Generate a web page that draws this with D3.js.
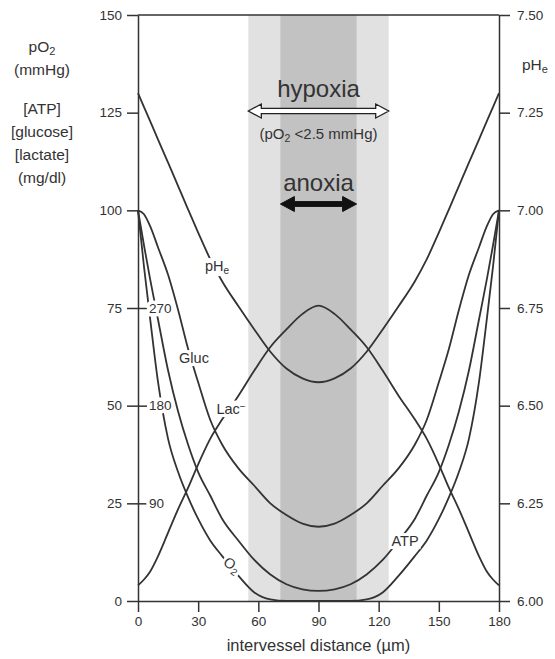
<!DOCTYPE html>
<html>
<head>
<meta charset="utf-8">
<script src="https://cdn.jsdelivr.net/npm/d3@7"></script>
<style>
  body { margin: 0; background: #fff; }
  svg text { font-family: "Liberation Sans", Arial, Helvetica, sans-serif; fill: #333; }
  .axis path, .axis line { stroke: #333; stroke-width: 1.5; }
  .axis text { font-size: 13.5px; fill: #333; }
  .curve { fill: none; stroke: #333; stroke-width: 1.8; }
  .halo { stroke: #fff; stroke-width: 7; paint-order: stroke; stroke-linejoin: round; }
</style>
</head>
<body>
<div id="container"></div>
<script>

//---------------------
// DATA
//---------------------

// intervessel distance (µm)
const dist = [0, 3, 6, 10, 15, 20, 25, 30, 36, 42, 50, 58, 66, 74, 82, 90,
              98, 106, 114, 122, 130, 138, 144, 150, 155, 160, 165, 170, 174, 177, 180];

// pO2 (mmHg)
const o2 = [100, 85.5, 72.5, 56, 41.5, 33, 26.5, 21, 15.5, 11.5, 6.5, 2.2, 0.4, 0, 0, 0,
            0, 0, 0.4, 2.2, 6.5, 11.5, 15.5, 21, 26.5, 33, 41.5, 56, 72.5, 85.5, 100];

// ATP (left scale units)
const atp = [100, 91, 82.5, 72, 59, 48.5, 40, 33, 27, 21, 15.5, 10.5, 6.8, 4.3, 3, 2.6,
             3, 4.3, 6.8, 10.5, 15.5, 21, 27, 33, 40, 48.5, 59, 72, 82.5, 91, 100];

// glucose (left scale units)
const gluc = [100, 99, 96, 90.5, 83.5, 74.5, 64.5, 56, 46.4, 40, 34, 29.5, 25, 22, 19.8, 19,
              19.8, 22, 25, 29.5, 34, 40, 46.4, 56, 64.5, 74.5, 83.5, 90.5, 96, 99, 100];

// lactate (left scale units)
const lac = [4, 5.5, 7.5, 11.5, 17.5, 23.5, 29, 35, 41.5, 46.5, 52.5, 59, 65, 69.5, 73.5, 75.6,
             73.5, 69.5, 65, 59, 52.5, 46.5, 41.5, 35, 29, 23.5, 17.5, 11.5, 7.5, 5.5, 4];

// extracellular pH (right scale)
const ph_e = [7.30, 7.264, 7.229, 7.181, 7.122, 7.062, 7.002, 6.943, 6.875, 6.818, 6.755, 6.695, 6.638, 6.595, 6.57, 6.56,
              6.57, 6.595, 6.638, 6.695, 6.755, 6.818, 6.875, 6.943, 7.002, 7.062, 7.122, 7.181, 7.229, 7.264, 7.30];

// zones (µm)
const hypoxia_zone = [55, 125];
const anoxia_zone = [71, 109];

// ticks
const ticks_x = [0, 30, 60, 90, 120, 150, 180];
const ticks_left = [0, 25, 50, 75, 100, 125, 150];
const ticks_right = [6.00, 6.25, 6.50, 6.75, 7.00, 7.25, 7.50];
const ticks_gluc = [90, 180, 270];

//---------------------
// SVG + SCALES
//---------------------

const width = 555;
const height = 659;

const svg = d3.select('#container')
              .append('svg')
              .attr('width', width)
              .attr('height', height);

const scale_x = d3.scaleLinear().domain([0, 180]).range([138, 499]);
const scale_y = d3.scaleLinear().domain([0, 150]).range([601, 15]);
const scale_ph = d3.scaleLinear().domain([6, 7.5]).range([601, 15]);
const scale_gluc = d3.scaleLinear().domain([0, 540]).range([601, 15]);

//---------------------
// ZONES
//---------------------

svg.append('rect')
   .attr('x', scale_x(hypoxia_zone[0]))
   .attr('y', scale_y(150))
   .attr('width', scale_x(hypoxia_zone[1]) - scale_x(hypoxia_zone[0]))
   .attr('height', scale_y(0) - scale_y(150))
   .attr('fill', '#e1e1e1');

svg.append('rect')
   .attr('x', scale_x(anoxia_zone[0]))
   .attr('y', scale_y(150))
   .attr('width', scale_x(anoxia_zone[1]) - scale_x(anoxia_zone[0]))
   .attr('height', scale_y(0) - scale_y(150))
   .attr('fill', '#c2c2c2');

//---------------------
// CURVES
//---------------------

function plotCurve (values, scale) {
  const line = d3.line()
                 .x((d, i) => scale_x(dist[i]))
                 .y(d => scale(d))
                 .curve(d3.curveMonotoneX);

  svg.append('path')
     .datum(values)
     .attr('class', 'curve')
     .attr('d', line);
}

plotCurve(o2, scale_y);
plotCurve(atp, scale_y);
plotCurve(gluc, scale_y);
plotCurve(lac, scale_y);
plotCurve(ph_e, scale_ph);

//---------------------
// AXES
//---------------------

// left axis, outer ticks
svg.append('g')
   .attr('class', 'axis')
   .attr('transform', `translate(${scale_x(0)}, 0)`)
   .call(d3.axisLeft(scale_y).tickValues(ticks_left).tickSize(11).tickSizeOuter(0).tickPadding(5));

// right axis (pHe)
svg.append('g')
   .attr('class', 'axis')
   .attr('transform', `translate(${scale_x(180)}, 0)`)
   .call(d3.axisRight(scale_ph).tickValues(ticks_right).tickFormat(d3.format('.2f'))
           .tickSize(11).tickSizeOuter(0).tickPadding(7));

// bottom axis
svg.append('g')
   .attr('class', 'axis')
   .attr('transform', `translate(0, ${scale_y(0)})`)
   .call(d3.axisBottom(scale_x).tickValues(ticks_x).tickSize(11).tickSizeOuter(0).tickPadding(4));

// top frame line
svg.append('line')
   .attr('x1', scale_x(0)).attr('x2', scale_x(180))
   .attr('y1', scale_y(150)).attr('y2', scale_y(150))
   .attr('stroke', '#333').attr('stroke-width', 1.5);

// inner glucose ticks (mg/dl) with white backing to cut the curves
const g_gluc = svg.append('g')
                  .attr('class', 'axis')
                  .attr('transform', `translate(${scale_x(0)}, 0)`)
                  .call(d3.axisRight(scale_gluc).tickValues(ticks_gluc).tickSize(9).tickPadding(2));
g_gluc.select('.domain').remove();
g_gluc.selectAll('text').attr('class', 'halo');

//---------------------
// TITLES
//---------------------

const left_titles = [
  { y: 52, parts: [['pO', 0], ['2', 1]] },
  { y: 75, parts: [['(mmHg)', 0]] },
  { y: 114, parts: [['[ATP]', 0]] },
  { y: 137, parts: [['[glucose]', 0]] },
  { y: 160, parts: [['[lactate]', 0]] },
  { y: 183, parts: [['(mg/dl)', 0]] }
];

left_titles.forEach(t => {
  const text = svg.append('text')
                  .attr('x', 42)
                  .attr('y', t.y)
                  .attr('text-anchor', 'middle')
                  .style('font-size', '15.5px');
  t.parts.forEach(p => {
    text.append('tspan')
        .attr('baseline-shift', p[1] ? '-30%' : null)
        .style('font-size', p[1] ? '11px' : null)
        .text(p[0]);
  });
});

const ph_title = svg.append('text')
                    .attr('x', 522)
                    .attr('y', 70)
                    .style('font-size', '15.5px');
ph_title.append('tspan').text('pH');
ph_title.append('tspan').attr('baseline-shift', '-30%').style('font-size', '11px').text('e');

svg.append('text')
   .attr('x', scale_x(90))
   .attr('y', 651)
   .attr('text-anchor', 'middle')
   .style('font-size', '16.5px')
   .text('intervessel distance (µm)');

//---------------------
// CURVE LABELS
//---------------------

// label on a white patch so the curve looks broken around it
function addLabel (x, y, main, sub, sup, rotate) {
  const g = svg.append('g')
               .attr('transform', `translate(${x}, ${y}) rotate(${rotate || 0})`);
  const text = g.append('text')
                .attr('text-anchor', 'middle')
                .attr('dy', '0.35em')
                .style('font-size', '14.5px');
  text.append('tspan').text(main);
  if (sub) text.append('tspan').attr('baseline-shift', '-30%').style('font-size', '10px').text(sub);
  if (sup) text.append('tspan').attr('baseline-shift', '45%').style('font-size', '10px').text(sup);

  const box = text.node().getBBox();
  g.insert('rect', 'text')
   .attr('x', box.x - 2)
   .attr('y', box.y)
   .attr('width', box.width + 4)
   .attr('height', box.height)
   .attr('fill', '#fff');
}

addLabel(217, 266, 'pH', 'e');
addLabel(194, 358, 'Gluc');
addLabel(231, 409, 'Lac', null, '\u2212');
addLabel(232, 565, 'O', '2', null, 35);
addLabel(405, 541, 'ATP');

//---------------------
// ZONE ANNOTATIONS
//---------------------

function arrowPath (x0, x1, y, shaft, head, head_len) {
  return `M${x0},${y}` +
         `L${x0 + head_len},${y - head}` +
         `L${x0 + head_len},${y - shaft}` +
         `L${x1 - head_len},${y - shaft}` +
         `L${x1 - head_len},${y - head}` +
         `L${x1},${y}` +
         `L${x1 - head_len},${y + head}` +
         `L${x1 - head_len},${y + shaft}` +
         `L${x0 + head_len},${y + shaft}` +
         `L${x0 + head_len},${y + head}Z`;
}

svg.append('text')
   .attr('x', scale_x(90))
   .attr('y', 97)
   .attr('text-anchor', 'middle')
   .style('font-size', '24px')
   .text('hypoxia');

svg.append('path')
   .attr('d', arrowPath(scale_x(hypoxia_zone[0]), scale_x(hypoxia_zone[1]), 111, 2.6, 7, 13))
   .attr('fill', '#fff')
   .attr('stroke', '#222')
   .attr('stroke-width', 1.3);

const hyp_note = svg.append('text')
                    .attr('x', scale_x(90))
                    .attr('y', 139)
                    .attr('text-anchor', 'middle')
                    .style('font-size', '15px');
hyp_note.append('tspan').text('(pO');
hyp_note.append('tspan').attr('baseline-shift', '-30%').style('font-size', '10.5px').text('2');
hyp_note.append('tspan').text(' <2.5 mmHg)');

svg.append('text')
   .attr('x', scale_x(90))
   .attr('y', 191)
   .attr('text-anchor', 'middle')
   .style('font-size', '24px')
   .text('anoxia');

svg.append('path')
   .attr('d', arrowPath(scale_x(anoxia_zone[0]), scale_x(anoxia_zone[1]), 204, 2.4, 7.5, 14))
   .attr('fill', '#111')
   .attr('stroke', '#111')
   .attr('stroke-width', 1);

</script>
</body>
</html>
